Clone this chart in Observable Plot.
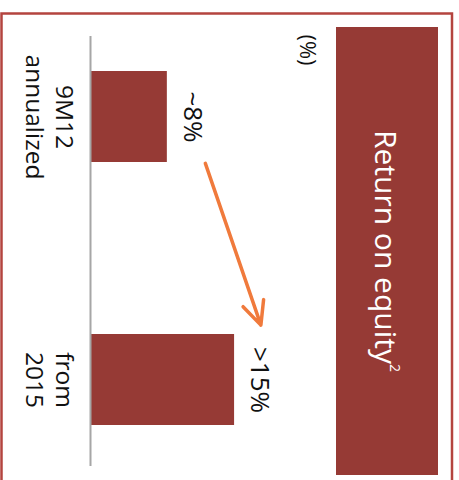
<!DOCTYPE html>
<html><head><meta charset="utf-8">
<script src="https://cdn.jsdelivr.net/npm/d3@7"></script>
<script src="https://cdn.jsdelivr.net/npm/@observablehq/plot@0.6"></script>
<style>body{margin:0;background:#fff;overflow:hidden}#chart{position:relative;width:459px;height:480px}</style>
</head><body><div id="chart"></div>
<script>
const categories = ["9M12\nannualized", "from\n2015"];
const values = [8, 15];
const valueLabels = ["~8%", ">15%"];
const title = "Return on equity";
const titleNote = "2";
const unitLabel = "(%)";
const arrowX = [10.3, 19.7];

const barColor = "#963a35";
const font = "'Open Sans', sans-serif";

const data = categories.map((c, i) => ({cat: c, value: values[i], label: valueLabels[i]}));
const arrowData = [{x1: arrowX[0], x2: arrowX[1], y1: categories[0], y2: categories[1]}];

const chart = Plot.plot({
  width: 459,
  height: 480,
  marginLeft: 90,
  marginRight: 4,
  marginTop: 36,
  marginBottom: 14,
  style: {fontFamily: font, background: "transparent"},
  x: {domain: [0, 38], axis: null},
  y: {domain: categories, axis: null, paddingInner: 0.655, paddingOuter: 0.142, align: 0.453},
  marks: [
    Plot.barX(data, {x: "value", y: "cat", fill: barColor}),
    Plot.ruleX([0], {stroke: "#a6a6a6", strokeWidth: 2}),
    Plot.text(data, {x: 0, y: "cat", text: "cat", rotate: 90, dx: -40, fontSize: 24.5, lineHeight: 1.2, fill: "#111", textAnchor: "middle", lineAnchor: "middle"}),
    Plot.text(data, {x: "value", y: "cat", text: "label", rotate: 90, dx: 25, fontSize: 26, fill: "#111", textAnchor: "middle", lineAnchor: "middle"}),
    Plot.arrow(arrowData, {x1: "x1", x2: "x2", y1: "y1", y2: "y2", stroke: "#f07a3c", strokeWidth: 3.5, headLength: 11, headAngle: 50, insetStart: 49, insetEnd: 58})
  ]
});

const svg = d3.select(chart);
// outer border
svg.insert("rect", ":first-child")
  .attr("x", 1.5).attr("y", 13.5).attr("width", 450.5).attr("height", 480)
  .attr("fill", "none").attr("stroke", "#b4443f").attr("stroke-width", 2.5);
// title banner
svg.append("rect")
  .attr("x", 336).attr("y", 27).attr("width", 102).attr("height", 448)
  .attr("fill", barColor);
const t = svg.append("text")
  .attr("transform", "translate(387,251) rotate(90)")
  .attr("text-anchor", "middle").attr("dominant-baseline", "central")
  .attr("fill", "#fff").attr("font-size", 30).attr("font-family", font);
t.append("tspan").text(title);
t.append("tspan").attr("font-size", 14).attr("dy", -9).text(titleNote);
// unit label
svg.append("text")
  .attr("transform", "translate(309,50) rotate(90)")
  .attr("text-anchor", "middle").attr("dominant-baseline", "central")
  .attr("fill", "#111").attr("font-size", 22).attr("font-family", font)
  .text(unitLabel);

document.getElementById("chart").appendChild(chart);
</script>
</body></html>
